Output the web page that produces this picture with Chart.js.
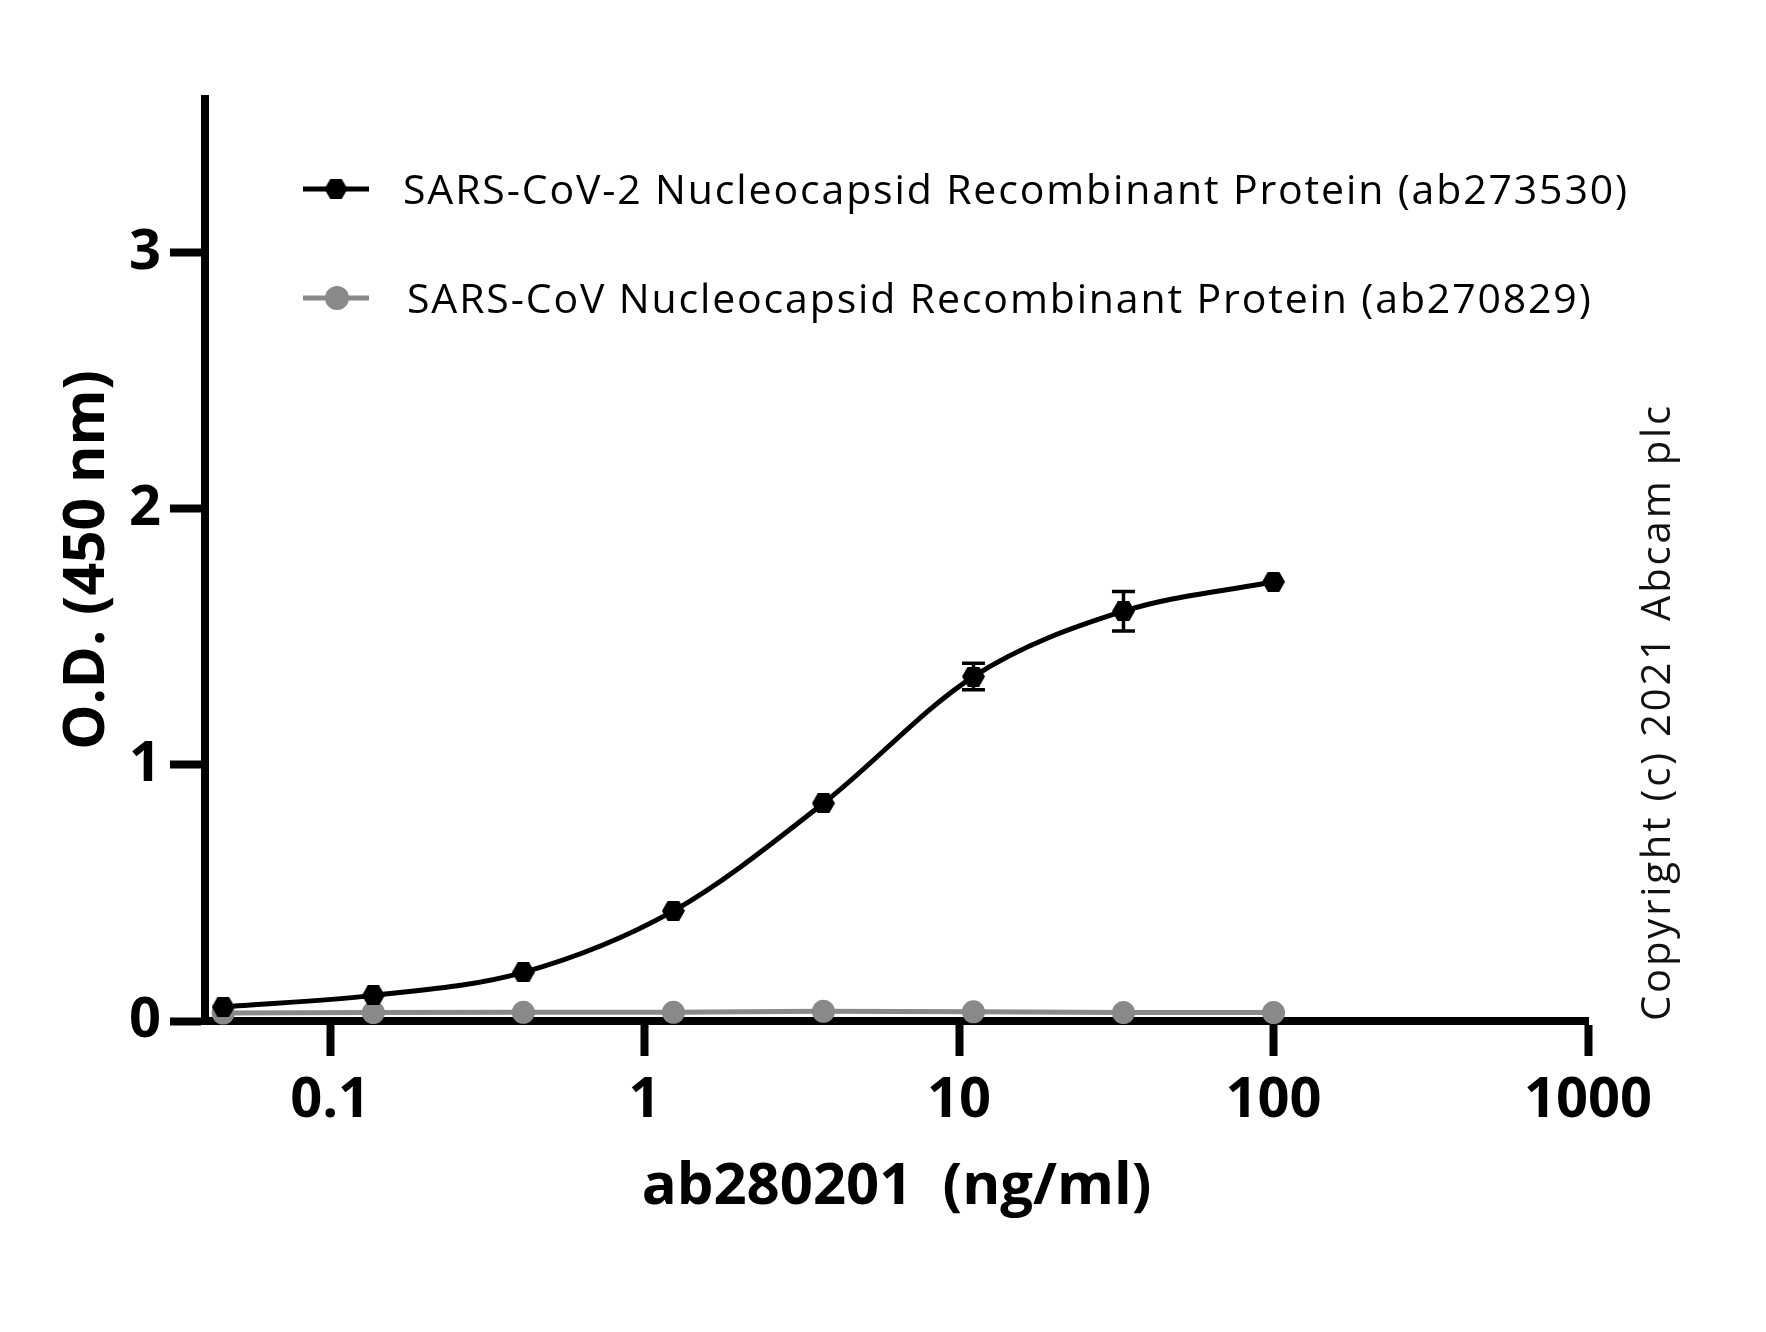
<!DOCTYPE html>
<html>
<head>
<meta charset="utf-8">
<script src="https://cdn.jsdelivr.net/npm/chart.js@4.4.1/dist/chart.umd.min.js"></script>
<style>
  html, body { margin: 0; padding: 0; background: #fff; }
</style>
</head>
<body>
<canvas id="elisaChart" width="1766" height="1332"></canvas>
<script>
// 3-fold dilution series of ab280201 (ng/ml)
const concentrations = [0.0457, 0.1372, 0.4115, 1.235, 3.704, 11.11, 33.33, 100];
const sarsCov2OD = [0.055, 0.10, 0.19, 0.43, 0.85, 1.345, 1.60, 1.715];
const sarsCov2Err = [0, 0, 0, 0, 0, 0.052, 0.077, 0];
const sarsCovOD = [0.031, 0.033, 0.034, 0.034, 0.038, 0.036, 0.033, 0.033];
const seriesLabels = [
    "SARS-CoV-2 Nucleocapsid Recombinant Protein (ab273530)",
    "SARS-CoV Nucleocapsid Recombinant Protein (ab270829)"
];
const xTickValues = [0.1, 1, 10, 100, 1000];
const yTickValues = [0, 1, 2, 3];
const copyrightText = "Copyright (c) 2021 Abcam plc";

const FONT = '"Open Sans", "DejaVu Sans", sans-serif';
const BLACK = "#000000";
const GREY = "#898989";

function hexagon(r, color) {
    const c = document.createElement("canvas");
    c.width = Math.ceil(2 * r);
    c.height = Math.ceil(Math.sqrt(3) * r);
    const g = c.getContext("2d");
    g.fillStyle = color;
    g.beginPath();
    for (let k = 0; k < 6; k++) {
        const a = Math.PI / 3 * k;
        const px = c.width / 2 + r * Math.cos(a);
        const py = c.height / 2 + r * Math.sin(a);
        if (k === 0) g.moveTo(px, py); else g.lineTo(px, py);
    }
    g.closePath();
    g.fill();
    return c;
}
const hexMarker = hexagon(11.5, BLACK);

// error bars with caps, drawn from dataset.errors
const errorBars = {
    id: "errorBars",
    afterDatasetsDraw(chart) {
        const ctx = chart.ctx;
        const yScale = chart.scales.y;
        chart.data.datasets.forEach((ds, di) => {
            if (!ds.errors) return;
            const meta = chart.getDatasetMeta(di);
            ctx.save();
            ctx.strokeStyle = ds.borderColor;
            ctx.lineWidth = 3.5;
            meta.data.forEach((pt, i) => {
                const e = ds.errors[i];
                if (!e) return;
                const top = yScale.getPixelForValue(ds.data[i].y + e);
                const bot = yScale.getPixelForValue(ds.data[i].y - e);
                ctx.beginPath();
                ctx.moveTo(pt.x, top); ctx.lineTo(pt.x, bot);
                ctx.moveTo(pt.x - 11.5, top); ctx.lineTo(pt.x + 11.5, top);
                ctx.moveTo(pt.x - 11.5, bot); ctx.lineTo(pt.x + 11.5, bot);
                ctx.stroke();
            });
            ctx.restore();
        });
    }
};

function spacingFor(ctx, text, target) {
    const w = ctx.measureText(text).width;
    return Math.max(0, (target - w) / text.length);
}

// legend inside the plot and rotated copyright note
const legendAndNote = {
    id: "legendAndNote",
    afterDraw(chart) {
        const ctx = chart.ctx;
        ctx.save();
        ctx.font = "41px " + FONT;
        ctx.letterSpacing = "0px";
        const sp = spacingFor(ctx, chart.data.datasets[0].label, 1226);
        chart.data.datasets.forEach((ds, i) => {
            const y = 189 + i * 109;
            ctx.strokeStyle = ds.borderColor;
            ctx.lineWidth = 5;
            ctx.beginPath();
            ctx.moveTo(303, y);
            ctx.lineTo(369, y);
            ctx.stroke();
            if (ds.pointStyle === "circle") {
                ctx.fillStyle = ds.pointBackgroundColor;
                ctx.beginPath();
                ctx.arc(337, y, 12, 0, Math.PI * 2);
                ctx.fill();
            } else {
                ctx.drawImage(ds.pointStyle, 336 - ds.pointStyle.width / 2, y - ds.pointStyle.height / 2);
            }
            ctx.fillStyle = BLACK;
            ctx.letterSpacing = sp + "px";
            ctx.textBaseline = "alphabetic";
            ctx.fillText(ds.label, 403 + i * 4, y + 15);
            ctx.letterSpacing = "0px";
        });

        ctx.font = "40px " + FONT;
        const sp2 = spacingFor(ctx, copyrightText, 618);
        ctx.letterSpacing = sp2 + "px";
        ctx.fillStyle = "#111";
        ctx.translate(1670, 1021);
        ctx.rotate(-Math.PI / 2);
        ctx.textBaseline = "alphabetic";
        ctx.fillText(copyrightText, 0, 0);
        ctx.restore();
    }
};

const axisLine = { display: true, width: 8, color: BLACK };
const tickMarks = {
    display: true,
    drawOnChartArea: false,
    drawTicks: true,
    tickLength: 35,
    tickWidth: 8,
    tickColor: BLACK,
    color: BLACK
};

const ctx = document.getElementById("elisaChart").getContext("2d");
const chart = new Chart(ctx, {
    type: "line",
    data: {
        datasets: [
            {
                label: seriesLabels[0],
                data: concentrations.map((x, i) => ({ x, y: sarsCov2OD[i] })),
                errors: sarsCov2Err,
                borderColor: BLACK,
                backgroundColor: BLACK,
                borderWidth: 5,
                pointStyle: hexMarker,
                pointRadius: 12,
                cubicInterpolationMode: "monotone",
                clip: false
            },
            {
                label: seriesLabels[1],
                data: concentrations.map((x, i) => ({ x, y: sarsCovOD[i] })),
                borderColor: GREY,
                backgroundColor: GREY,
                pointBackgroundColor: GREY,
                pointBorderWidth: 0,
                borderWidth: 5,
                pointStyle: "circle",
                pointRadius: 11.5,
                tension: 0,
                clip: false
            }
        ]
    },
    options: {
        responsive: false,
        animation: false,
        devicePixelRatio: 1,
        layout: { padding: { top: 99, right: 178, bottom: 110, left: 0 } },
        plugins: {
            legend: { display: false },
            tooltip: { enabled: false }
        },
        scales: {
            x: {
                type: "logarithmic",
                min: 0.04,
                max: 1000,
                border: axisLine,
                grid: tickMarks,
                afterBuildTicks: (s) => { s.ticks = xTickValues.map(v => ({ value: v })); },
                afterFit: (s) => { s.height = 201; },
                ticks: {
                    autoSkip: false,
                    maxRotation: 0,
                    padding: 11,
                    color: BLACK,
                    font: { family: FONT, size: 56, weight: "bold" },
                    callback: (v) => String(v)
                },
                title: {
                    display: true,
                    text: "ab280201  (ng/ml)",
                    color: BLACK,
                    padding: { top: 0, bottom: 0 },
                    font: { family: FONT, size: 58, weight: "bold" }
                }
            },
            y: {
                min: 0,
                max: 3.6,
                border: axisLine,
                grid: tickMarks,
                afterBuildTicks: (s) => { s.ticks = yTickValues.map(v => ({ value: v })); },
                afterFit: (s) => { s.width = 205; },
                ticks: {
                    padding: 9,
                    color: BLACK,
                    font: { family: FONT, size: 56, weight: "bold" },
                    callback: (v) => String(v)
                },
                title: {
                    display: true,
                    text: "O.D. (450 nm)",
                    color: BLACK,
                    padding: { top: 54, bottom: 0 },
                    font: { family: FONT, size: 57, weight: "bold" }
                }
            }
        }
    },
    plugins: [errorBars, legendAndNote]
});
</script>
</body>
</html>
